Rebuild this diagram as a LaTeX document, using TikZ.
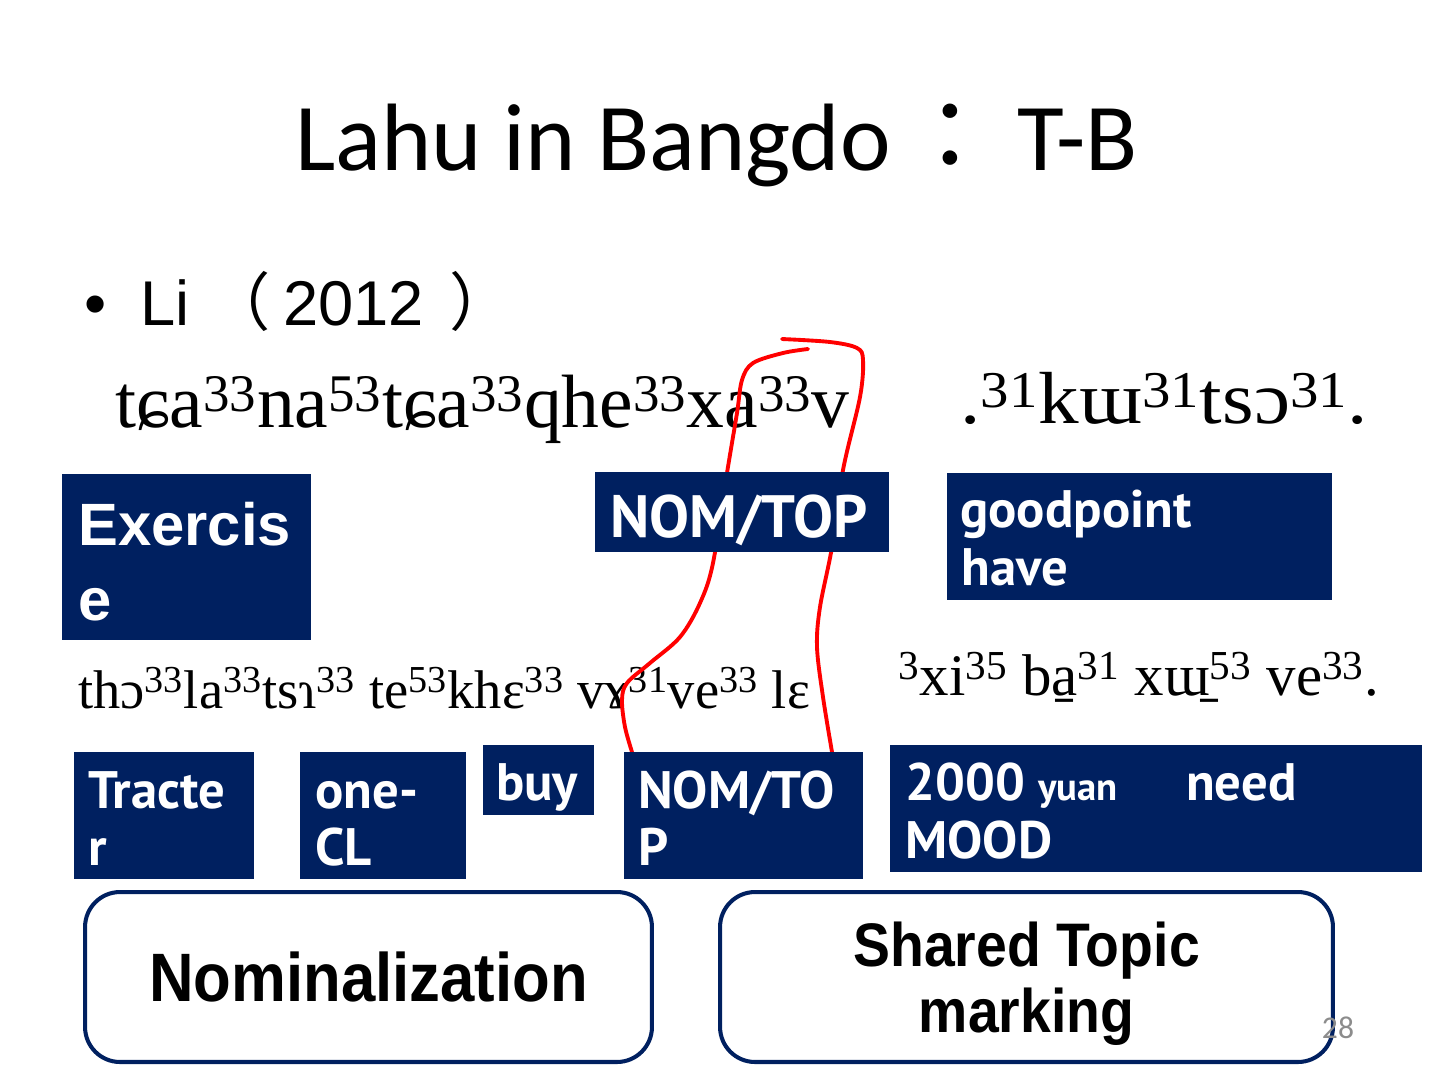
\documentclass[tikz,border=0pt]{standalone}
\usepackage{fontspec}
\setmainfont{Liberation Sans}
\newfontfamily\titlefont{Carlito}
\newfontfamily\glossfont{PT Sans}
\newfontfamily\ipafont{Liberation Serif}
\newfontfamily\narrowfont[FakeStretch=0.9]{Liberation Sans}
\newfontfamily\cjk{Noto Sans CJK JP}
\usepackage{tikz}
\definecolor{boxnavy}{HTML}{002060}
\colorlet{penred}{red}
\colorlet{pagegray}{black!45}
\newcommand{\tn}[1]{\textsuperscript{#1}}

\begin{document}
\begin{tikzpicture}[x=0.02cm,y=-0.02cm,
    navytext/.style={text=white,inner sep=0pt,anchor=base west,font=\glossfont\bfseries\fontsize{30}{36}\selectfont},
    ipa/.style={inner sep=0pt,anchor=base west,font=\ipafont\fontsize{43}{45}\selectfont},
    ipasmall/.style={ipa,font=\ipafont\fontsize{31}{34}\selectfont},
    topicbox/.style={draw=boxnavy,line width=2.3pt,rounded corners=0.7cm,fill=white,
        minimum height=3.4cm,align=center,font=\narrowfont\bfseries\fontsize{35}{37.5}\selectfont}]
    \useasboundingbox[fill=white] (0,0) rectangle (1440,1080);

    % heading and citation
    \node[anchor=base west,inner sep=0pt,font=\titlefont\fontsize{54.5}{60}\selectfont] (title) at (295,170)
        {Lahu in Bangdo\hspace{0.12em}{\cjk ：}\hspace{0.2em}T-B};
    \node[anchor=base west,inner sep=0pt,font=\fontsize{36}{40}\selectfont] (dot) at (84,325) {•};
    \node[anchor=base west,inner sep=0pt,font=\fontsize{36}{40}\selectfont] (cite) at (140,325)
        {Li {\cjk （}\hspace{0.2em}2012\hspace{0.4em}{\cjk ）}};

    % the two example sentences
    \node[ipa] (glossa) at (115,427) {tɕa\tn{33}na\tn{53}tɕa\tn{33}qhe\tn{33}xa\tn{33}v};
    \node[ipa,font=\ipafont\fontsize{42}{44}\selectfont,xscale=1.1] (glossb) at (960,423) {.\tn{31}kɯ\tn{31}tsɔ\tn{31}.};
    \node[ipasmall] (glossc) at (78,708) {thɔ\tn{33}la\tn{33}tsɿ\tn{33} te\tn{53}khɛ\tn{33} vɤ\tn{31}ve\tn{33} lɛ};
    \node[ipasmall,font=\ipafont\fontsize{33.5}{35}\selectfont] (glossd) at (898,695) {\tn{3}xi\tn{35} ba̱\tn{31} xɯ̱\tn{53} ve\tn{33}.};

    % red pen loop
    \draw[penred,line width=2.2pt,line cap=round] plot[smooth,tension=0.55] coordinates
        {(808,349) (783,353) (753,363) (742,380) (737,413) (727,473) (713,563) (700,603)
         (680,637) (650,663) (627,683) (622,700) (625,727) (632,752)};
    \draw[penred,line width=2.2pt,line cap=round] plot[smooth,tension=0.55] coordinates
        {(782,339) (830,342) (857,348) (863,360) (860,397) (843,470) (832,547) (820,607)
         (817,647) (823,697) (832,752)};

    % navy label boxes
    \foreach \xa/\ya/\xb/\yb in {62/474/311/640, 595/472/889/552, 947/473/1332/600,
        74/752/254/879, 300/752/466/879, 483/745/594/815, 624/752/863/879, 890/745/1422/872}{
        \fill[boxnavy] (\xa,\ya) rectangle (\xb,\yb);
    }
    \node[navytext,font=\bfseries\fontsize{34}{40}\selectfont] (exer) at (78,545) {Exercis};
    \node[navytext,font=\bfseries\fontsize{34}{40}\selectfont] (exerb) at (78,620) {e};
    \node[navytext,font=\glossfont\bfseries\fontsize{34}{40}\selectfont] (nomtop) at (610,537) {NOM/TOP};
    \node[navytext] (good) at (960,527) {goodpoint};
    \node[navytext] (have) at (961,585) {have};
    \node[navytext] (tract) at (88,808) {Tracte};
    \node[navytext] (tractb) at (88,865) {r};
    \node[navytext] (onecl) at (315,808) {one-};
    \node[navytext] (oneclb) at (315,865) {CL};
    \node[navytext] (buy) at (496,800) {buy};
    \node[navytext] (nomto) at (638,808) {NOM/TO};
    \node[navytext] (nomtob) at (638,865) {P};
    \node[navytext] (need) at (905,800) {2000 {\fontsize{22}{26}\selectfont yuan}\hspace{1.3em}need};
    \node[navytext] (mood) at (905,858) {MOOD};

    % summary boxes
    \node[topicbox,minimum width=11.34cm,font=\narrowfont\bfseries\fontsize{39}{41}\selectfont] (nomin) at (368.5,977) {Nominalization};
    \node[topicbox,minimum width=12.26cm] (shared) at (1026.5,977) {\rule{0pt}{0.95em}Shared Topic\\marking};
    \node[anchor=base,inner sep=0pt,text=pagegray,font=\titlefont\fontsize{18}{20}\selectfont] (page) at (1338,1038) {28};
\end{tikzpicture}
\end{document}
